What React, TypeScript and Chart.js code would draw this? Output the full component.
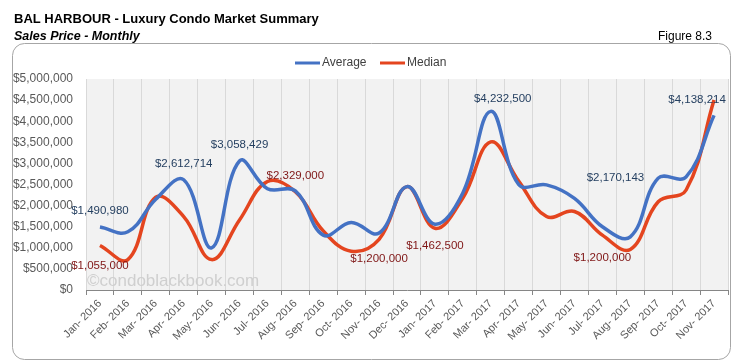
import React, { useEffect, useRef } from "react";
import { Chart, registerables } from "chart.js";

Chart.register(...registerables);

const categories = [
  "Jan- 2016", "Feb- 2016", "Mar- 2016", "Apr- 2016", "May- 2016", "Jun- 2016",
  "Jul- 2016", "Aug- 2016", "Sep- 2016", "Oct- 2016", "Nov- 2016", "Dec- 2016",
  "Jan- 2017", "Feb- 2017", "Mar- 2017", "Apr- 2017", "May- 2017", "Jun- 2017",
  "Jul- 2017", "Aug- 2017", "Sep- 2017", "Oct- 2017", "Nov- 2017",
];

const averageValues = [
  1490980, 1380000, 2150000, 2612714, 1000000, 3058429, 2400000, 2350000,
  1300000, 1600000, 1350000, 2450000, 1560000, 2300000, 4232500, 2500000,
  2490000, 2170143, 1500000, 1260000, 2650000, 2680000, 4138214,
];

const medianValues = [
  1055000, 720000, 2200000, 1740000, 720000, 1660000, 2570000, 2329000,
  1400000, 920000, 1200000, 2450000, 1462500, 2180000, 3510000, 2580000,
  1740000, 1860000, 1300000, 960000, 2090000, 2370000, 4500000,
];

const yMin = 0;
const yMax = 5000000;
const yStep = 500000;

const seriesNames = ["Average", "Median"];
const seriesColors = ["#4472C4", "#E4451F"];
const labelColors = ["#243F60", "#7F1515"];

// point annotations: series index, category index, text, offset
const pointLabels = [
  { s: 0, i: 0, text: "$1,490,980", dx: 0, dy: -16 },
  { s: 1, i: 0, text: "$1,055,000", dx: 0, dy: 20 },
  { s: 0, i: 3, text: "$2,612,714", dx: 0, dy: -16 },
  { s: 0, i: 5, text: "$3,058,429", dx: 0, dy: -16 },
  { s: 1, i: 7, text: "$2,329,000", dx: 0, dy: -16 },
  { s: 1, i: 10, text: "$1,200,000", dx: 0, dy: 19 },
  { s: 1, i: 12, text: "$1,462,500", dx: 0, dy: 18 },
  { s: 0, i: 14, text: "$4,232,500", dx: 12, dy: -13 },
  { s: 0, i: 17, text: "$2,170,143", dx: 41, dy: -21 },
  { s: 1, i: 18, text: "$1,200,000", dx: 0, dy: 23 },
  { s: 0, i: 22, text: "$4,138,214", dx: -17, dy: -16 },
];

const FONT = "'Liberation Sans', Arial, sans-serif";

const fmtMoney = (v: number) => "$" + Math.round(v).toLocaleString("en-US");

const chromePlugin = {
  id: "chrome",
  beforeDraw(chart: any) {
    const ctx = chart.ctx;
    const { left, top, right, bottom } = chart.chartArea;
    ctx.save();
    ctx.fillStyle = "#ffffff";
    ctx.fillRect(0, 0, chart.width, chart.height);

    // outer rounded frame
    ctx.strokeStyle = "#A6A6A6";
    ctx.lineWidth = 1;
    ctx.beginPath();
    (ctx as any).roundRect(12.5, 43.5, 718, 316, 12);
    ctx.stroke();

    // titles
    ctx.fillStyle = "#000000";
    ctx.textBaseline = "alphabetic";
    ctx.textAlign = "left";
    ctx.font = "bold 13px " + FONT;
    ctx.fillText("BAL HARBOUR - Luxury Condo Market Summary", 14, 23);
    ctx.font = "italic bold 12.5px " + FONT;
    ctx.fillText("Sales Price - Monthly", 14, 40);
    ctx.font = "12px " + FONT;
    ctx.textAlign = "right";
    ctx.fillText("Figure 8.3", 712, 40);

    // legend
    ctx.textAlign = "left";
    ctx.textBaseline = "middle";
    ctx.font = "12px " + FONT;
    const legendItems = [
      { x: 295, tx: 322 },
      { x: 380, tx: 407 },
    ];
    legendItems.forEach((it, k) => {
      ctx.strokeStyle = seriesColors[k];
      ctx.lineWidth = 3;
      ctx.beginPath();
      ctx.moveTo(it.x, 63);
      ctx.lineTo(it.x + 25, 63);
      ctx.stroke();
      ctx.fillStyle = "#404040";
      ctx.fillText(seriesNames[k], it.tx, 63);
    });

    // plot background
    ctx.fillStyle = "#F2F2F2";
    ctx.fillRect(left, top, right - left, bottom - top);
    ctx.restore();
  },
  beforeDatasetsDraw(chart: any) {
    const ctx = chart.ctx;
    const { left, bottom } = chart.chartArea;
    ctx.save();
    ctx.fillStyle = "#CFCFCF";
    ctx.font = "17px " + FONT;
    ctx.textAlign = "left";
    ctx.textBaseline = "middle";
    ctx.fillText("\u00A9condoblackbook.com", left + 1, bottom - 9);
    ctx.restore();
  },
  afterDatasetsDraw(chart: any) {
    const ctx = chart.ctx;
    const xs = chart.scales.x;
    const ys = chart.scales.y;
    const series = [averageValues, medianValues];
    ctx.save();
    ctx.font = "11.5px " + FONT;
    ctx.textAlign = "center";
    ctx.textBaseline = "middle";
    pointLabels.forEach((l) => {
      const px = xs.getPixelForValue(l.i);
      const py = ys.getPixelForValue(series[l.s][l.i]);
      ctx.fillStyle = labelColors[l.s];
      ctx.fillText(l.text, px + l.dx, py + l.dy);
    });
    ctx.restore();
  },
};

export default function App() {
  const ref = useRef<HTMLCanvasElement | null>(null);

  useEffect(() => {
    document.body.style.margin = "0";
    if (!ref.current) return;
    Chart.defaults.font.family = FONT;
    const chart = new Chart(ref.current, {
      type: "line",
      data: {
        labels: categories,
        datasets: [
          {
            label: seriesNames[0],
            data: averageValues,
            borderColor: seriesColors[0],
            backgroundColor: seriesColors[0],
            borderWidth: 3.5,
            pointRadius: 0,
            tension: 0.4,
            fill: false,
          },
          {
            label: seriesNames[1],
            data: medianValues,
            borderColor: seriesColors[1],
            backgroundColor: seriesColors[1],
            borderWidth: 3.5,
            pointRadius: 0,
            tension: 0.4,
            fill: false,
          },
        ],
      },
      options: {
        responsive: false,
        animation: false,
        devicePixelRatio: 1,
        layout: { padding: { top: 79, right: 10, bottom: 0, left: 0 } },
        plugins: {
          legend: { display: false },
          title: { display: false },
          tooltip: { enabled: false },
        },
        scales: {
          x: {
            type: "category",
            offset: true,
            grid: {
              offset: true,
              color: "#D9D9D9",
              tickColor: "#868686",
              tickLength: 5,
              drawOnChartArea: true,
            },
            border: { color: "#868686", width: 1 },
            ticks: {
              autoSkip: false,
              minRotation: 45,
              maxRotation: 45,
              color: "#595959",
              font: { size: 11, family: FONT },
              padding: 2,
            },
            afterFit(scale: any) {
              scale.height = 73;
            },
          },
          y: {
            min: yMin,
            max: yMax,
            grid: { display: false, drawTicks: false },
            border: { display: false },
            ticks: {
              stepSize: yStep,
              color: "#595959",
              font: { size: 12, family: FONT },
              padding: 13,
              callback: (v: any) => fmtMoney(Number(v)),
            },
            afterFit(scale: any) {
              scale.width = 86;
            },
          },
        },
      },
      plugins: [chromePlugin],
    });
    return () => chart.destroy();
  }, []);

  return (
    <div style={{ position: "absolute", left: 0, top: 0, width: 738, height: 363 }}>
      <canvas ref={ref} width={738} height={363} style={{ width: 738, height: 363 }} />
    </div>
  );
}
